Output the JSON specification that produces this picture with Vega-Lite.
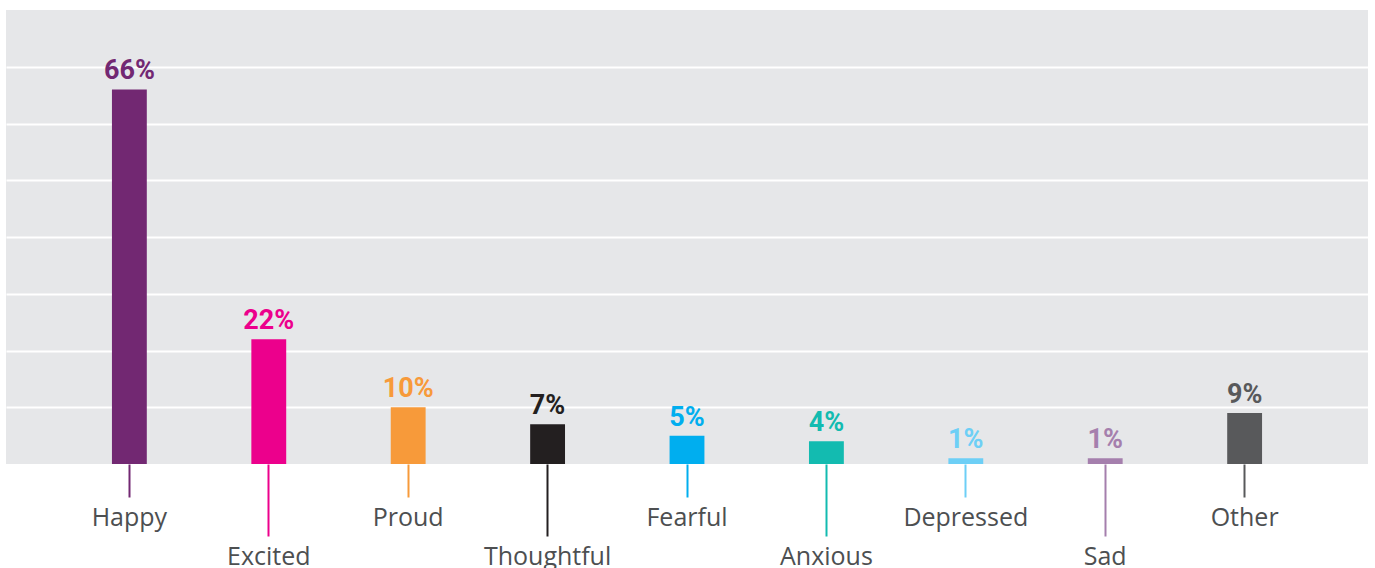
{
  "$schema": "https://vega.github.io/schema/vega-lite/v6.json",
  "autosize": {"type": "none"},
  "width": 1362,
  "height": 454,
  "padding": {"left": 6, "top": 10, "right": 7, "bottom": 104},
  "background": "#ffffff",
  "config": {"view": {"fill": "#e6e7e9", "stroke": null}},
  "data": {"values": [
    {"emotion": "Happy", "share": 0.66},
    {"emotion": "Excited", "share": 0.22},
    {"emotion": "Proud", "share": 0.10},
    {"emotion": "Thoughtful", "share": 0.07},
    {"emotion": "Fearful", "share": 0.05},
    {"emotion": "Anxious", "share": 0.04},
    {"emotion": "Depressed", "share": 0.01},
    {"emotion": "Sad", "share": 0.01},
    {"emotion": "Other", "share": 0.09}
  ]},
  "encoding": {
    "x": {
      "field": "emotion", "type": "nominal", "sort": null,
      "scale": {"paddingInner": 0.75, "paddingOuter": 0.76},
      "axis": {
        "title": null, "domain": false, "grid": false, "labelAngle": 0,
        "labelFont": "Open Sans", "labelFontSize": 25, "labelFontWeight": 500, "labelColor": "#4d4f51",
        "labelPadding": 8,
        "tickWidth": 2,
        "tickSize": {"condition": {"test": "indexof(['Happy','Proud','Fearful','Depressed','Other'], datum.value) >= 0", "value": 33}, "value": 72},
        "tickColor": {"condition": [
          {"test": "datum.value === 'Happy'", "value": "#722872"},
          {"test": "datum.value === 'Excited'", "value": "#ec008c"},
          {"test": "datum.value === 'Proud'", "value": "#f79a3a"},
          {"test": "datum.value === 'Thoughtful'", "value": "#231f20"},
          {"test": "datum.value === 'Fearful'", "value": "#00aeef"},
          {"test": "datum.value === 'Anxious'", "value": "#13bbb0"},
          {"test": "datum.value === 'Depressed'", "value": "#6dcff6"},
          {"test": "datum.value === 'Sad'", "value": "#a57fad"}
        ], "value": "#58595b"}
      }
    },
    "y": {
      "field": "share", "type": "quantitative",
      "scale": {"domain": [0, 0.8], "nice": false},
      "axis": {"title": null, "labels": false, "ticks": false, "domain": false, "grid": true, "gridColor": "#ffffff", "gridWidth": 2, "values": [0.1, 0.2, 0.3, 0.4, 0.5, 0.6, 0.7]}
    },
    "color": {
      "field": "emotion", "type": "nominal", "legend": null,
      "scale": {
        "domain": ["Happy", "Excited", "Proud", "Thoughtful", "Fearful", "Anxious", "Depressed", "Sad", "Other"],
        "range": ["#722872", "#ec008c", "#f79a3a", "#231f20", "#00aeef", "#13bbb0", "#6dcff6", "#a57fad", "#58595b"]
      }
    }
  },
  "layer": [
    {"mark": {"type": "bar"}},
    {
      "mark": {"type": "text", "baseline": "alphabetic", "dy": -10, "font": "Roboto", "fontWeight": "bold", "fontSize": 27},
      "encoding": {"text": {"field": "share", "type": "quantitative", "format": ".0%"}}
    }
  ]
}
